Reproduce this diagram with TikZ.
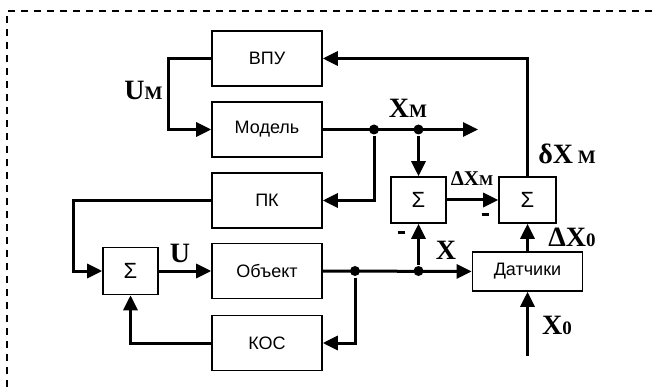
\documentclass[tikz,border=0pt]{standalone}
\usepackage{fontspec}
\setmainfont{Liberation Serif}
\newfontfamily\boxfont{Liberation Sans}
\usepackage{tikz}
\usetikzlibrary{positioning,arrows.meta}

\tikzset{
  blk/.style={draw,line width=1.6pt,minimum width=110pt,minimum height=55pt,
    inner sep=0pt,font=\boxfont\fontsize{18pt}{18pt}\selectfont},
  summ/.style={blk,minimum width=55pt,minimum height=47pt,
    font=\boxfont\fontsize{22pt}{22pt}\selectfont},
  sig/.style={font=\bfseries\fontsize{28pt}{28pt}\selectfont,inner sep=0pt},
  minus/.style={inner sep=0pt},
  dot/.style={circle,fill,inner sep=0pt,minimum size=10pt}
}
\newcommand{\ssub}[1]{{\fontsize{19pt}{19pt}\selectfont #1}}

\begin{document}
\begin{tikzpicture}[x=1pt,y=-1pt,line width=3pt,>={Triangle[length=15pt,width=14pt]}]
\useasboundingbox (0,0) rectangle (655,387);
% frame
\draw[line width=2pt,dash pattern=on 7pt off 6pt] (7,387) -- (7,11) -- (655,11);

% blocks
\node[blk] (vpu) at (267,58.5) {ВПУ};
\node[blk] (model) at (267,129.5) {Модель};
\node[blk] (pk) at (267,200.5) {ПК};
\node[blk] (obj) at (267,271) {Объект};
\node[blk] (kos) at (267,343) {КОС};
\node[summ] (sumL) at (130.5,271) {Σ};
\node[summ,minimum height=46pt] (sumM) at (418.5,200) {Σ};
\node[summ,minimum height=46pt,minimum width=57pt] (sumR) at (527.5,200) {Σ};
\node[blk,minimum height=39pt] (dat) at (527.5,271.5) {Датчики};

% branch points
\coordinate (um) at (168,58.5);
\coordinate (xmend) at (478,129.5);
\coordinate (pkturn) at (73,200.5);
\coordinate (x0) at (527.5,356);
\node[dot] (d1) at (374,129.5) {};
\node[dot] (d2) at (sumM.north |- model.east) {};
\node[dot] (d3) at (355,271) {};
\node[dot] (d4) at (sumM.south |- obj.east) {};

% connectors
\draw[->] (sumR.north) |- (vpu.east);
\draw[->] (vpu.west) -- (um) |- (model.west);
\draw[->] (model.east) -- (xmend);
\draw[->] (d1) |- (pk.east);
\draw[->] (d2) -- (sumM.north);
\draw[->] (sumM.east) -- (sumR.west);
\draw[->] (pk.west) -- (pkturn) |- (sumL.west);
\draw[->] (sumL.east) -- (obj.west);
\draw[->] (obj.east) -- (dat.west);
\draw[->] (d4) -- (sumM.south);
\draw[->] (d3) |- (kos.east);
\draw[->] (kos.west) -| (sumL.south);
\draw[->] (dat.north) -- (sumR.south);
\draw[->] (x0) -- (dat.south);

% labels
\node[sig,anchor=east] (lum) at (164,90) {U\ssub{М}};
\node[sig] (lxm) at (408,108) {X\ssub{М}};
\node[sig,font=\bfseries\fontsize{21pt}{21pt}\selectfont] (ldxm) at (472,179) {ΔX{\fontsize{15pt}{15pt}\selectfont М}};
\node[sig] (lsxm) at (567,154) {δX\,\ssub{М}};
\node[sig] (ldx0) at (572,237) {ΔX\ssub{0}};
\node[sig] (lx) at (446,250) {X};
\node[sig] (lx0) at (557,325) {X\ssub{0}};
\node[sig] (lu) at (180,253) {U};
\node[minus] (m1) at (485,214) {\rule{7pt}{3pt}};
\node[minus] (m2) at (401,232) {\rule{7pt}{3pt}};
\end{tikzpicture}
\end{document}
